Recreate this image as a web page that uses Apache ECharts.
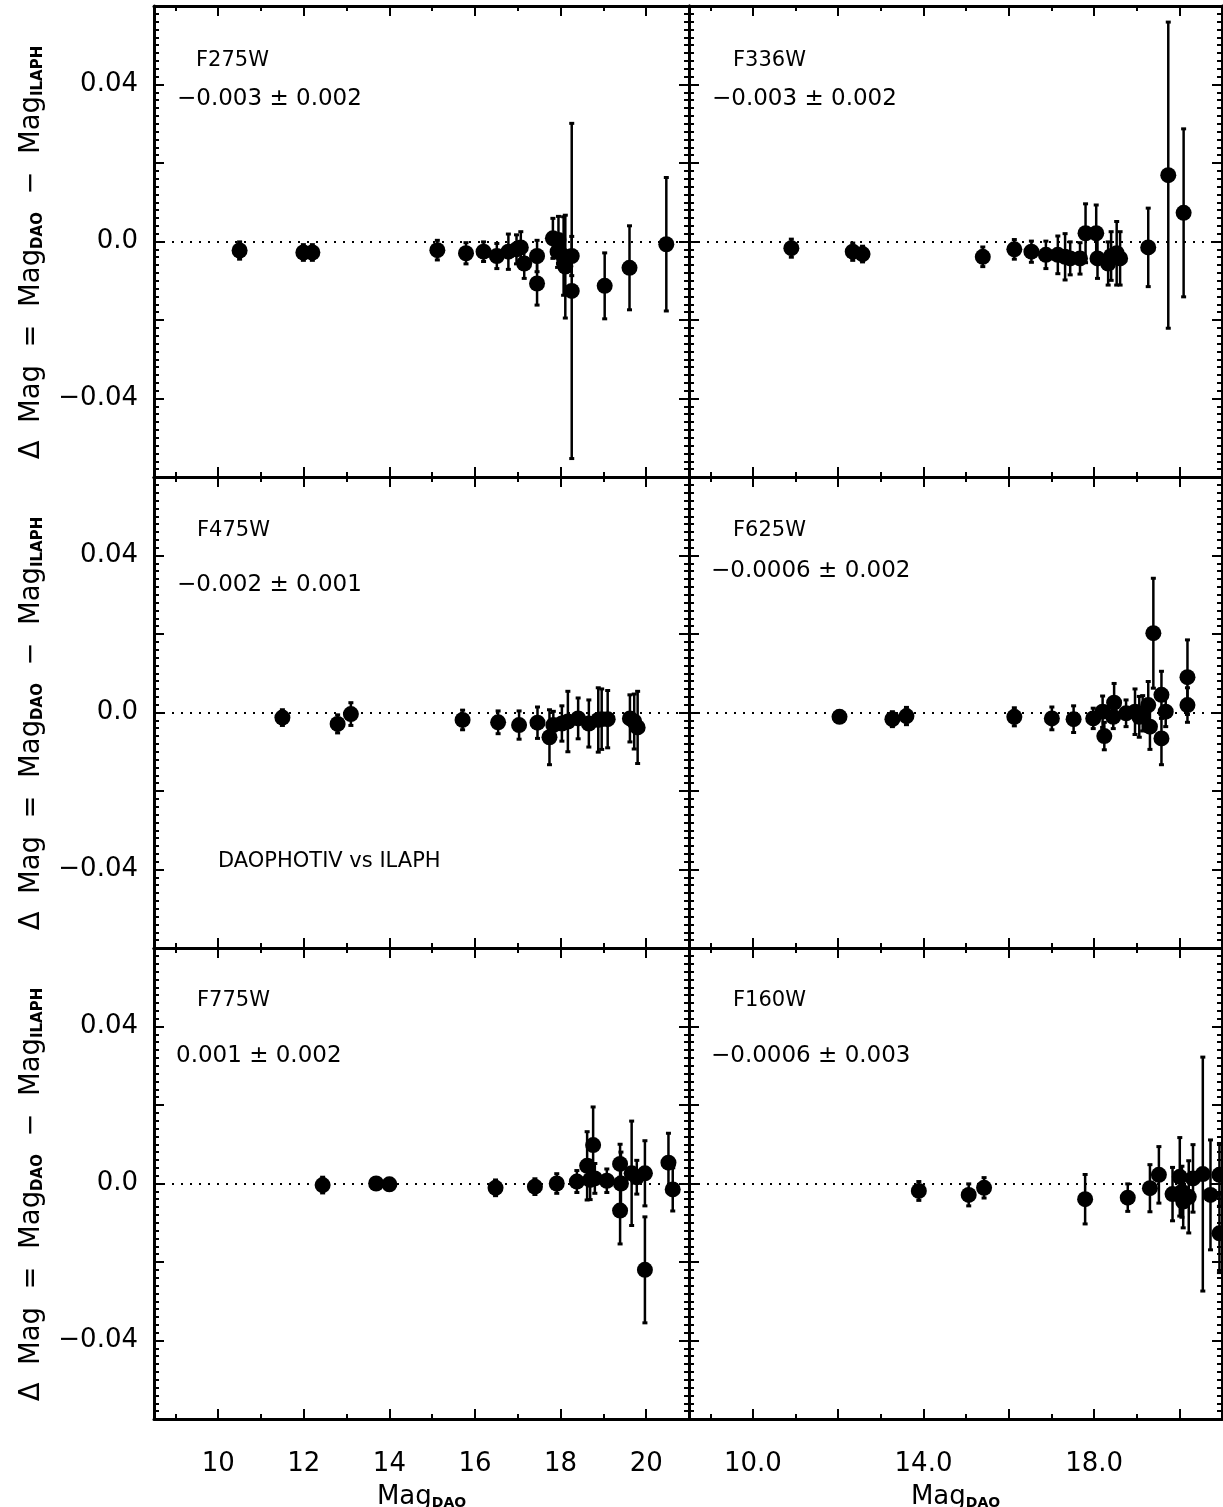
<!DOCTYPE html>
<html><head><meta charset="utf-8">
<script src="https://cdn.jsdelivr.net/npm/echarts@6/dist/echarts.min.js"></script>
<style>html,body{margin:0;padding:0;background:#fff}#c{width:1223px;height:1507px}</style>
</head><body><div id="c"></div><script>
// ---- data ----
const f275wX = [10.5, 11.99, 12.2, 15.12, 15.79, 16.2, 16.51, 16.78, 16.97, 17.07, 17.15, 17.45, 17.45, 17.82, 17.93, 17.95, 18.07, 18.11, 18.26, 18.26, 19.03, 19.61, 20.47];
const f275wY = [-0.0023, -0.0028, -0.0028, -0.0022, -0.003, -0.0026, -0.0037, -0.0026, -0.002, -0.0015, -0.0056, -0.0037, -0.0107, 0.0008, -0.0026, 0.0004, -0.0037, -0.0064, -0.0037, -0.0126, -0.0113, -0.0067, -0.0007];
const f275wErr = [0.0022, 0.002, 0.002, 0.0025, 0.0027, 0.0025, 0.0032, 0.0045, 0.0037, 0.004, 0.0038, 0.004, 0.0055, 0.0051, 0.004, 0.006, 0.01, 0.0131, 0.005, 0.0427, 0.0084, 0.0107, 0.017];

const f336wX = [10.9, 12.34, 12.57, 15.39, 16.13, 16.53, 16.87, 17.15, 17.32, 17.44, 17.67, 17.8, 18.05, 18.08, 18.33, 18.4, 18.53, 18.61, 19.27, 19.74, 20.1];
const f336wY = [-0.0017, -0.0026, -0.0032, -0.0039, -0.002, -0.0026, -0.0034, -0.0034, -0.0039, -0.0043, -0.0043, 0.0021, 0.0021, -0.0043, -0.0056, -0.0037, -0.003, -0.0043, -0.0015, 0.0169, 0.0073];
const f336wErr = [0.0023, 0.0022, 0.002, 0.0025, 0.0025, 0.0027, 0.0035, 0.0048, 0.0059, 0.0042, 0.004, 0.0075, 0.0072, 0.0051, 0.0055, 0.0062, 0.0081, 0.0068, 0.01, 0.039, 0.0214];

const f475wX = [11.5, 12.79, 13.1, 15.71, 16.54, 17.03, 17.46, 17.74, 17.83, 18.03, 18.17, 18.41, 18.66, 18.88, 18.96, 19.1, 19.62, 19.72, 19.8];
const f475wY = [-0.0013, -0.0029, -0.0004, -0.0019, -0.0025, -0.0032, -0.0026, -0.0063, -0.0032, -0.0028, -0.0023, -0.0015, -0.0028, -0.0019, -0.0017, -0.0017, -0.0015, -0.0023, -0.0038];
const f475wErr = [0.002, 0.0023, 0.0029, 0.0025, 0.0029, 0.0036, 0.004, 0.007, 0.0035, 0.0045, 0.0077, 0.0052, 0.006, 0.0082, 0.0077, 0.0073, 0.006, 0.007, 0.0092];

const f625wX = [12.03, 13.27, 13.6, 16.13, 17.01, 17.52, 17.98, 18.2, 18.24, 18.45, 18.47, 18.75, 18.96, 19.06, 19.14, 19.27, 19.31, 19.39, 19.58, 19.58, 19.68, 20.19, 20.19];
const f625wY = [-0.0011, -0.0017, -0.0009, -0.0011, -0.0015, -0.0017, -0.0015, 0.0002, -0.006, -0.0011, 0.0025, -0.0002, 0.0002, -0.0011, -0.0002, 0.0019, -0.0036, 0.0202, 0.0045, -0.0066, 0.0002, 0.009, 0.0019];
const f625wErr = [0.0008, 0.0019, 0.0022, 0.0023, 0.0029, 0.0034, 0.0026, 0.004, 0.0035, 0.003, 0.0049, 0.0034, 0.0058, 0.0052, 0.0045, 0.006, 0.0058, 0.014, 0.006, 0.0067, 0.0038, 0.0095, 0.0044];

const f775wX = [12.44, 13.69, 14.0, 16.48, 17.4, 17.91, 18.38, 18.62, 18.69, 18.76, 18.8, 19.08, 19.39, 19.41, 19.39, 19.66, 19.78, 19.97, 19.97, 20.52, 20.62];
const f775wY = [-0.0004, 0.0, -0.0002, -0.0011, -0.0008, 0.0, 0.0005, 0.0045, 0.0009, 0.0098, 0.0013, 0.0007, 0.005, 0.0, -0.0069, 0.0026, 0.0016, 0.0026, -0.022, 0.0053, -0.0015];
const f775wErr = [0.002, 0.0015, 0.0015, 0.002, 0.002, 0.0025, 0.0028, 0.0087, 0.005, 0.0097, 0.0038, 0.003, 0.005, 0.008, 0.0085, 0.0133, 0.0043, 0.0083, 0.0135, 0.0075, 0.0055];

const f160wX = [13.89, 15.06, 15.42, 17.79, 18.79, 19.31, 19.52, 19.84, 20.01, 20.06, 20.09, 20.22, 20.32, 20.55, 20.73, 20.94, 20.94];
const f160wY = [-0.0019, -0.0029, -0.0011, -0.004, -0.0036, -0.0012, 0.0022, -0.0027, 0.0017, -0.0021, -0.0046, -0.0034, 0.0013, 0.0024, -0.0029, 0.0022, -0.0127];
const f160wErr = [0.0024, 0.0028, 0.0026, 0.0063, 0.0035, 0.006, 0.0072, 0.0068, 0.01, 0.0065, 0.0067, 0.0092, 0.0086, 0.0298, 0.014, 0.008, 0.01];

const panelNames = ['F275W', 'F336W', 'F475W', 'F625W', 'F775W', 'F160W'];
const meanValues = [-0.003, -0.003, -0.002, -0.0006, 0.001, -0.0006];
const meanLabels = ['\u22120.003 \u00b1 0.002', '\u22120.003 \u00b1 0.002', '\u22120.002 \u00b1 0.001', '\u22120.0006 \u00b1 0.002', '0.001 \u00b1 0.002', '\u22120.0006 \u00b1 0.003'];
const noteText = 'DAOPHOTIV vs ILAPH';

const xMajorTicks = [10, 12, 14, 16, 18, 20];
const xMinorTicks = [9, 11, 13, 15, 17, 19, 21];
const xLabelsLeft = [10, 12, 14, 16, 18, 20];
const xLabelsRight = [10, 14, 18];
const yLabelValues = [-0.04, 0, 0.04];

const panelX = [f275wX, f336wX, f475wX, f625wX, f775wX, f160wX];
const panelY = [f275wY, f336wY, f475wY, f625wY, f775wY, f160wY];
const panelErr = [f275wErr, f336wErr, f475wErr, f625wErr, f775wErr, f160wErr];

// ---- layout ----
const FONT = 'DejaVu Sans';
const colLeft = [154, 689], colWidth = [535, 533];
const rowTop = [6, 477, 948], rowH = 471;
const X_MIN = 8.5, X_MAX = 21, Y_MIN = -0.06, Y_MAX = 0.06;

const grids = [], xAxes = [], yAxes = [], series = [], graphics = [];
const richX = {
  m: {fontFamily: FONT, fontSize: 26, color: '#000', lineHeight: 32, verticalAlign: 'bottom'},
  s: {fontFamily: FONT, fontSize: 14, fontWeight: 'bold', color: '#000', lineHeight: 14, verticalAlign: 'bottom'}
};
const richY = {
  m: {fontFamily: FONT, fontSize: 27.5, color: '#000', lineHeight: 34, verticalAlign: 'bottom'},
  s: {fontFamily: FONT, fontSize: 15, fontWeight: 'bold', color: '#000', lineHeight: 15, verticalAlign: 'bottom'}
};

function xAxis(i, pos, ticks, len, showLine, labels, name) {
  return {
    type: 'value', gridIndex: i, position: pos, min: X_MIN, max: X_MAX,
    axisLine: {show: showLine, onZero: false, lineStyle: {color: '#000', width: 3}},
    axisTick: {show: true, inside: true, customValues: ticks, length: len, lineStyle: {color: '#000', width: 2}},
    minorTick: {show: false},
    splitLine: {show: false},
    axisLabel: labels ? {show: true, customValues: labels.vals, formatter: labels.fmt, fontFamily: FONT, fontSize: 26, color: '#000', margin: 32} : {show: false},
    name: name || '', nameLocation: 'middle', nameGap: 59,
    nameTextStyle: {rich: richX}
  };
}
function fmtY(v) {
  if (Math.abs(v) < 1e-9) return '0.0';
  return (v < 0 ? '\u2212' : '') + Math.abs(v).toFixed(2);
}

for (let i = 0; i < 6; i++) {
  const r = Math.floor(i / 2), c = i % 2;
  grids.push({left: colLeft[c], top: rowTop[r], width: colWidth[c], height: rowH, containLabel: false, outerBoundsMode: 'none'});
  let labels = null, xname = '';
  if (r === 2) {
    labels = c === 0 ? {vals: xLabelsLeft, fmt: v => String(Math.round(v))} : {vals: xLabelsRight, fmt: v => v.toFixed(1)};
    xname = '{m|Mag}{s|DAO}';
  }
  xAxes.push(xAxis(i, 'bottom', xMajorTicks, 10, true, labels, xname));
  xAxes.push(xAxis(i, 'bottom', xMinorTicks, 5, false, null, ''));
  xAxes.push(xAxis(i, 'top', xMajorTicks, 10, true, null, ''));
  xAxes.push(xAxis(i, 'top', xMinorTicks, 5, false, null, ''));
  ['left', 'right'].forEach((pos) => {
    const showLab = (pos === 'left' && c === 0);
    yAxes.push({
      type: 'value', gridIndex: i, position: pos, min: Y_MIN, max: Y_MAX, interval: 0.02,
      axisLine: {show: true, onZero: false, lineStyle: {color: '#000', width: 3}},
      axisTick: {show: true, inside: true, length: 10, lineStyle: {color: '#000', width: 2}},
      minorTick: {show: true, splitNumber: 10, length: 5, lineStyle: {color: '#000', width: 2}},
      splitLine: {show: false}, minorSplitLine: {show: false},
      axisLabel: showLab ? {show: true, customValues: yLabelValues, formatter: fmtY, fontFamily: FONT, fontSize: 26, color: '#000', margin: 16} : {show: false},
      name: showLab ? '{m|\u0394  Mag  =  Mag}{s|DAO}{m|  \u2212  Mag}{s|ILAPH}' : '',
      nameLocation: 'middle', nameRotate: 90, nameGap: 108,
      nameTextStyle: {rich: richY, padding: [0, 22, 0, 0]}
    });
  });
  const xi = i * 4, yi = i * 2;
  const pts = panelX[i].map((x, k) => [x, panelY[i][k], panelErr[i][k]]);
  series.push({
    type: 'custom', xAxisIndex: xi, yAxisIndex: yi, clip: true, silent: true,
    data: pts, encode: {x: 0, y: 1},
    renderItem: function (params, api) {
      const x = api.value(0), y = api.value(1), e = api.value(2);
      const top = api.coord([x, y + e]);
      const bot = api.coord([x, y - e]);
      return {type: 'group', children: [
        {type: 'line', shape: {x1: top[0], y1: top[1], x2: bot[0], y2: bot[1]}, style: {stroke: '#000', lineWidth: 2.5}},
        {type: 'rect', shape: {x: top[0] - 2.5, y: top[1] - 1.5, width: 5, height: 3}, style: {fill: '#000'}},
        {type: 'rect', shape: {x: bot[0] - 2.5, y: bot[1] - 1.5, width: 5, height: 3}, style: {fill: '#000'}}
      ]};
    }
  });
  series.push({
    type: 'scatter', xAxisIndex: xi, yAxisIndex: yi, symbol: 'circle', symbolSize: 16, silent: true,
    itemStyle: {color: '#000', opacity: 1}, data: pts.map(p => [p[0], p[1]]), z: 3,
    markLine: {silent: true, symbol: 'none', label: {show: false}, animation: false,
      lineStyle: {color: '#000', width: 2, type: [2, 7], opacity: 1}, data: [{yAxis: meanValues[i]}]}
  });
}

// annotation texts
const nameLeft = [196, 733, 197, 733, 197, 733];
const nameCy = [62, 62, 532, 532, 1002, 1002];
const valLeft = [177, 712, 177, 711, 176, 711];
const valCy = [101, 101, 587, 573, 1058, 1058];
for (let i = 0; i < 6; i++) {
  graphics.push({type: 'text', left: nameLeft[i], top: nameCy[i] - 12, z: 10,
    style: {text: panelNames[i], fontFamily: FONT, fontSize: 21, fill: '#000'}});
  graphics.push({type: 'text', left: valLeft[i], top: valCy[i] - 13, z: 10,
    style: {text: meanLabels[i], fontFamily: FONT, fontSize: 23, fill: '#000'}});
}
graphics.push({type: 'text', left: 218, top: 851, z: 10,
  style: {text: noteText, fontFamily: FONT, fontSize: 21, fill: '#000'}});

const chart = echarts.init(document.getElementById('c'), null, {renderer: 'canvas'});
chart.setOption({
  animation: false,
  backgroundColor: '#fff',
  grid: grids, xAxis: xAxes, yAxis: yAxes, series: series, graphic: graphics
});
</script></body></html>
